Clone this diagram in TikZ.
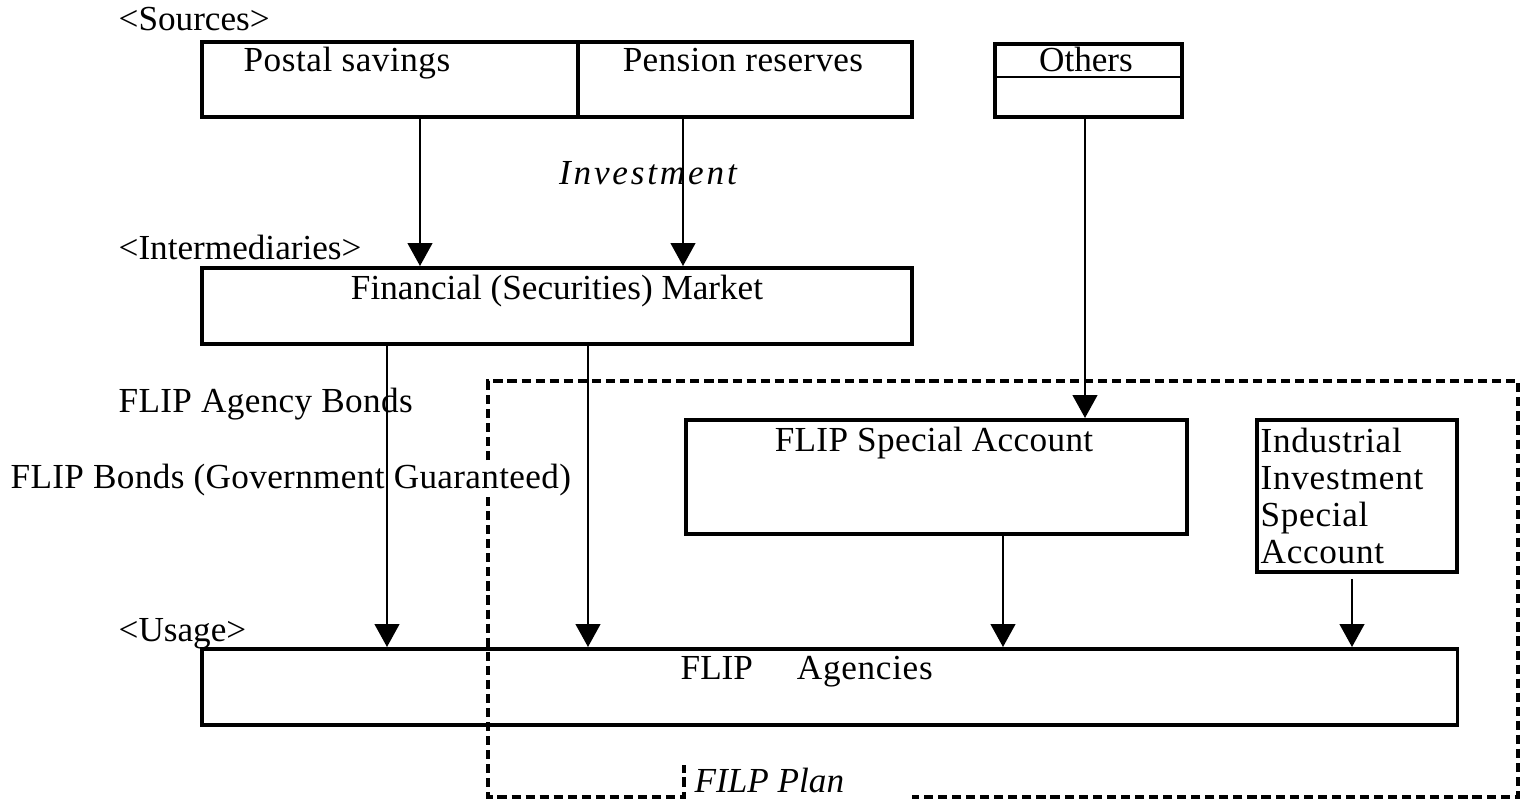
\documentclass[tikz,border=0pt]{standalone}
\usepackage{fontspec}
\setmainfont{Liberation Serif}
\usetikzlibrary{arrows.meta}
\begin{document}
\begin{tikzpicture}[x=0.01cm,y=-0.01cm,
  box/.style={draw,line width=1pt,inner sep=0pt,anchor=north west},
  arr/.style={line width=0.6pt,-{Triangle[width=7pt,length=6.5pt]}},
  plan/.style={line width=1pt,dash pattern=on 2.6pt off 1.4pt},
  txt/.style={font=\fontsize{10}{10.6}\selectfont,inner sep=0pt}]
\useasboundingbox (0,0) rectangle (1526,800);
% boxes
\node[box,minimum width=3.76cm,minimum height=0.75cm] (postal) at (200,40) {};
\node[box,minimum width=3.34cm,minimum height=0.75cm] (pension) at (576,40) {};
\node[box,minimum width=1.87cm,minimum height=0.73cm] (others) at (993,42) {};
\draw[line width=0.6pt] (others.west |- 0,77) -- (others.east |- 0,77);
\node[box,minimum width=7.10cm,minimum height=0.76cm] (fin) at (200,266) {};
\node[box,minimum width=5.01cm,minimum height=1.14cm] (special) at (684,418) {};
\node[box,minimum width=2.00cm,minimum height=1.52cm] (indus) at (1255,418) {};
\node[box,minimum width=12.55cm,minimum height=0.76cm] (agencies) at (200,647) {};
% texts
\node[txt,anchor=base west] (lsrc) at (118,31) {<Sources>};
\node[txt,anchor=base west] (tpostal) at (243,71) {\addfontfeature{LetterSpace=1.5}Postal savings};
\node[txt,anchor=base] (tpension) at (743,71) {\addfontfeature{LetterSpace=1}Pension reserves};
\node[txt,anchor=base] (tothers) at (1086,71) {Others};
\node[txt,anchor=base] (tinv) at (648,184) {\itshape\addfontfeature{LetterSpace=8}Investment};
\node[txt,anchor=base west] (linter) at (118,259) {<Intermediaries>};
\node[txt,anchor=base] (tfin) at (557,299) {Financial (Securities) Market};
\node[txt,anchor=base west] (tagb) at (118,412) {\addfontfeature{LetterSpace=1}FLIP Agency Bonds};
\node[txt,anchor=base west] (tbonds) at (10,488) {\addfontfeature{LetterSpace=1}FLIP Bonds (Government Guaranteed)};
\node[txt,anchor=base] (tspecial) at (934,451) {\addfontfeature{LetterSpace=1}FLIP Special Account};
\node[txt,anchor=north west,align=left] (tindus) at (1260,427) {\addfontfeature{LetterSpace=2}Industrial\\\addfontfeature{LetterSpace=2}Investment\\\addfontfeature{LetterSpace=2}Special\\\addfontfeature{LetterSpace=2}Account};
\node[txt,anchor=base west] (lusage) at (118,641) {<Usage>};
\node[txt,anchor=base west] (tagen) at (680,679) {FLIP\hspace{12.5pt}\addfontfeature{LetterSpace=2}Agencies};
\node[txt,anchor=base west] (tplan) at (694,792) {\itshape FILP Plan};
% arrows
\coordinate (x1) at (420,0);
\coordinate (x2) at (683,0);
\coordinate (x3) at (1085,0);
\coordinate (x4) at (387,0);
\coordinate (x5) at (588,0);
\coordinate (x6) at (1003,0);
\coordinate (x7) at (1352,0);
\draw[arr] (postal.south -| x1) -- (fin.north -| x1);
\draw[arr] (pension.south -| x2) -- (fin.north -| x2);
\draw[arr] (others.south -| x3) -- (special.north -| x3);
\draw[arr] (fin.south -| x4) -- (agencies.north -| x4);
\draw[arr] (fin.south -| x5) -- (agencies.north -| x5);
\draw[arr] (special.south -| x6) -- (agencies.north -| x6);
\draw[arr] ([yshift=-1.5pt]indus.south -| x7) -- (agencies.north -| x7);
% FILP plan dashed region
\draw[plan] (488,460) -- (488,381) -- (1518,381) -- (1518,797) -- (912,797);
\draw[plan] (488,497) -- (488,797) -- (684,797) -- (684,765);
\end{tikzpicture}
\end{document}
